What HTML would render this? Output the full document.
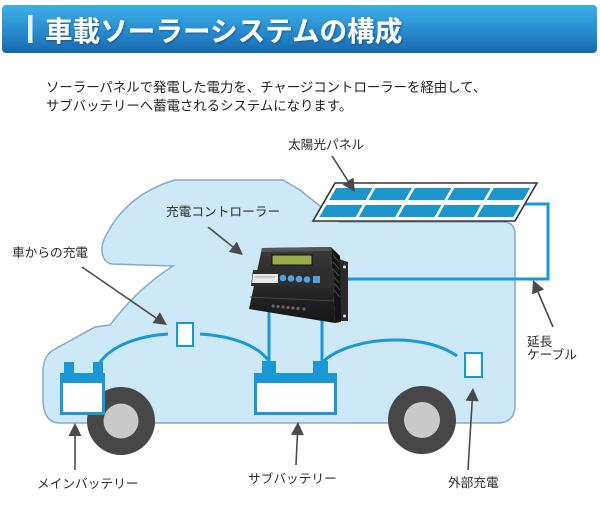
<!DOCTYPE html>
<html><head><meta charset="utf-8">
<style>
html,body{margin:0;padding:0;background:#fff;}
body{width:600px;height:513px;overflow:hidden;}
svg{display:block;}
text{font-family:"Liberation Sans","Noto Sans CJK JP",sans-serif;}
</style></head>
<body>
<svg width="600" height="513" viewBox="0 0 600 513" xmlns="http://www.w3.org/2000/svg">
<defs>
<linearGradient id="bar" x1="0" y1="0" x2="0" y2="1">
<stop offset="0" stop-color="#3fb0e6"/>
<stop offset="0.5" stop-color="#2a8fd2"/>
<stop offset="1" stop-color="#1768ae"/>
</linearGradient>
<linearGradient id="ctl" x1="0" y1="0" x2="0" y2="1">
<stop offset="0" stop-color="#3a3a3a"/>
<stop offset="1" stop-color="#161616"/>
</linearGradient>
<filter id="sh" x="-5%" y="-20%" width="110%" height="140%">
<feDropShadow dx="1" dy="1" stdDeviation="1" flood-color="#0a3a6a" flood-opacity="0.6"/>
</filter>
</defs>

<!-- Title bar -->
<rect x="2" y="5" width="595" height="48" rx="4" fill="url(#bar)"/>
<rect x="28" y="15" width="4.5" height="28" fill="#e6f3fb"/>
<text x="45" y="41" font-size="27.6" font-weight="bold" fill="#fff" filter="url(#sh)">車載ソーラーシステムの構成</text>

<!-- Body text -->
<text x="46" y="92" font-size="13.4" fill="#222">ソーラーパネルで発電した電力を、チャージコントローラーを経由して、</text>
<text x="46" y="110.5" font-size="13.4" fill="#222">サブバッテリーへ蓄電されるシステムになります。</text>

<!-- Van body -->
<path d="M 60 423 C 49 423, 43 415, 43 400 L 43 372 C 43 360, 47 353, 55 349 L 95 327 L 110 325 Q 138 288 173 266 L 112 264 C 100 262, 99 245, 108 232 C 118 212, 140 190, 175 180 L 283 180 L 300 190 L 340 222 L 503 222 Q 515 222 515 234 L 515 405 Q 515 423 497 423 Z" fill="#cde9f8" stroke="#86a9c9" stroke-width="1.5"/>

<!-- Wheels -->
<circle cx="121" cy="421" r="34" fill="#474747"/>
<circle cx="121" cy="421" r="17.5" fill="#c9c9c9"/>
<circle cx="422" cy="420" r="34" fill="#474747"/>
<circle cx="422" cy="420" r="18" fill="#c9c9c9"/>

<!-- Wires -->
<g fill="none" stroke="#1a98d5" stroke-width="3">
<path d="M 99 364 C 110 346, 138 336, 168 334"/>
<path d="M 200 334 C 233 336, 260 346, 270 363"/>
<path d="M 322 363 C 345 338, 420 330, 457 356"/>
<path d="M 269 310 L 269 363"/>
<path d="M 322 318 L 322 363"/>
<path d="M 345 279 L 548 279 L 548 204 L 522 204"/>
</g>

<!-- Charge ports -->
<rect x="177" y="323" width="16" height="23" fill="#fff" stroke="#1a98d5" stroke-width="2"/>
<rect x="465" y="353" width="17" height="24" fill="#fff" stroke="#1a98d5" stroke-width="2"/>

<!-- Main battery -->
<rect x="64" y="362" width="10" height="12" fill="#1a98d5"/>
<rect x="93" y="362" width="10" height="12" fill="#1a98d5"/>
<rect x="60" y="373" width="45" height="42" fill="#1a98d5"/>
<rect x="63" y="383" width="39" height="29" fill="#fff"/>

<!-- Sub battery -->
<rect x="262" y="361" width="14" height="13" fill="#1a98d5"/>
<rect x="313" y="361" width="15" height="13" fill="#1a98d5"/>
<rect x="254" y="373" width="83" height="42" fill="#1a98d5"/>
<rect x="257" y="383" width="77" height="29" fill="#fff"/>

<!-- Solar panel -->
<polygon points="335,183 537,183 515,221 313,221" fill="#fff" stroke="#333" stroke-width="1.6"/>
<g transform="translate(335,183) skewX(-30.07)" fill="#1b96cc">
<rect x="4" y="5" width="36.4" height="12"/>
<rect x="43.4" y="5" width="36.4" height="12"/>
<rect x="82.8" y="5" width="36.4" height="12"/>
<rect x="122.2" y="5" width="36.4" height="12"/>
<rect x="161.6" y="5" width="36.4" height="12"/>
<rect x="4" y="22" width="36.4" height="12"/>
<rect x="43.4" y="22" width="36.4" height="12"/>
<rect x="82.8" y="22" width="36.4" height="12"/>
<rect x="122.2" y="22" width="36.4" height="12"/>
<rect x="161.6" y="22" width="36.4" height="12"/>
</g>

<!-- Controller -->
<polygon points="339,259 348,262 348,321 339,321" fill="#2a2a2a"/>
<circle cx="344.5" cy="267" r="1.5" fill="#ddd"/>
<circle cx="344.5" cy="316" r="1.5" fill="#ddd"/>
<polygon points="331,247 340,256 341,322 335,323" fill="#141414"/>
<g stroke="#555" stroke-width="0.8">
<line x1="333" y1="255" x2="339" y2="262"/>
<line x1="333" y1="262" x2="339" y2="269"/>
<line x1="333" y1="269" x2="339" y2="276"/>
<line x1="333" y1="276" x2="339" y2="283"/>
<line x1="334" y1="283" x2="340" y2="290"/>
<line x1="334" y1="290" x2="340" y2="297"/>
</g>
<polygon points="262,248 331,247 335,323 249,309" fill="url(#ctl)"/>
<polygon points="262,248 331,247 331.3,251 261.5,252" fill="#555"/>
<rect x="272" y="255" width="40" height="10" fill="#9aad4c" stroke="#111" stroke-width="1"/>
<polygon points="253,270 334,272 334.6,288 251,286" fill="#2e2e2e"/>
<polygon points="253,274 278,274 278,283 252,283" fill="#e8e8e8"/>
<line x1="255" y1="277" x2="275" y2="277" stroke="#889" stroke-width="0.8"/>
<circle cx="283" cy="278" r="3.3" fill="#4fa3e3"/>
<circle cx="291" cy="278.5" r="3.3" fill="#4fa3e3"/>
<circle cx="299" cy="279" r="3.3" fill="#4fa3e3"/>
<circle cx="307" cy="279.5" r="3.3" fill="#4fa3e3"/>
<rect x="313" y="276" width="7" height="7" fill="#4fa3e3"/>
<line x1="250" y1="297" x2="335" y2="301" stroke="#444" stroke-width="1"/>
<g fill="#666">
<circle cx="273" cy="306" r="1.6"/><circle cx="278" cy="306.5" r="1.6"/><circle cx="283" cy="307" r="1.6"/>
<circle cx="288" cy="307.5" r="1.6"/><circle cx="293" cy="308" r="1.6"/><circle cx="298" cy="308.5" r="1.6"/>
<circle cx="304" cy="309" r="1.6"/>
</g>

<!-- Arrows -->
<g stroke="#4a4a4a" stroke-width="1.6">
<line x1="332" y1="156" x2="348" y2="181"/>
<line x1="208" y1="227" x2="233" y2="247"/>
<line x1="82" y1="267" x2="156" y2="318"/>
<line x1="553" y1="327" x2="538" y2="292"/>
<line x1="75" y1="470" x2="75" y2="436"/>
<line x1="296" y1="465" x2="297.4" y2="435"/>
<line x1="468" y1="470" x2="472.2" y2="401"/>
</g>
<g fill="#4a4a4a">
<polygon points="355,192 342.5,184.5 353.5,177.5"/>
<polygon points="243,255 228.8,251.9 236.9,241.8"/>
<polygon points="167,325 152.6,323 159.9,312.3"/>
<polygon points="533,280 544.1,289.4 532.1,294.5"/>
<polygon points="75,423 68.5,436 81.5,436"/>
<polygon points="298,422 290.9,434.7 303.9,435.3"/>
<polygon points="473,388 478.7,401.4 465.7,400.6"/>
</g>

<!-- Labels -->
<g font-size="12.7" fill="#2a2a2a">
<text x="288" y="149">太陽光パネル</text>
<text x="166" y="216">充電コントローラー</text>
<text x="12" y="257">車からの充電</text>
<text x="527" y="346">延長</text>
<text x="527" y="359">ケーブル</text>
<text x="37" y="488">メインバッテリー</text>
<text x="248" y="483">サブバッテリー</text>
<text x="448" y="487">外部充電</text>
</g>
</svg>
</body></html>
